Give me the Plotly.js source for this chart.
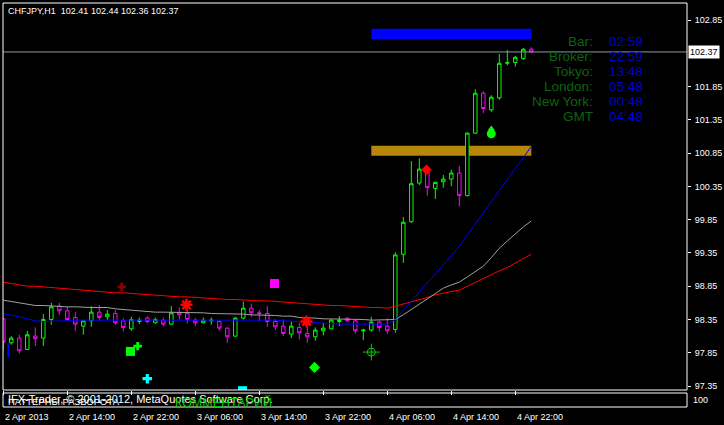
<!DOCTYPE html>
<html>
<head>
<meta charset="utf-8">
<script src="https://cdn.plot.ly/plotly-3.0.1.min.js"></script>
<style>
  html, body { margin: 0; padding: 0; background: #000; overflow: hidden; }
  #chart { width: 724px; height: 425px; }
</style>
</head>
<body>
<div id="chart"></div>
<script>
// ---- CHFJPY H1 quotes ----
const symbol = 'CHFJPY,H1';
const quote = [102.41, 102.44, 102.36, 102.37];

const open = [
  98.36, 98.00, 98.07, 97.90, 98.10, 98.07, 98.35, 98.55, 98.48, 98.38,
  98.25, 98.33, 98.46, 98.39, 98.44, 98.33, 98.21, 98.32, 98.37, 98.30,
  98.34, 98.28, 98.45, 98.44, 98.34, 98.30, 98.33, 98.32, 98.22, 98.10,
  98.37, 98.52, 98.45, 98.44, 98.32, 98.25, 98.13, 98.23, 98.14, 98.09,
  98.18, 98.21, 98.32, 98.37, 98.33, 98.18, 98.19, 98.31, 98.25, 98.20,
  99.33, 99.82, 100.40, 100.57, 100.32, 100.42, 100.46, 100.55, 100.21, 101.15,
  101.75, 101.50, 101.68, 102.20, 102.21, 102.27, 102.41
];
const high = [
  98.37, 98.10, 98.12, 98.18, 98.23, 98.43, 98.60, 98.60, 98.54, 98.46,
  98.33, 98.55, 98.57, 98.49, 98.49, 98.37, 98.39, 98.38, 98.40, 98.38,
  98.38, 98.55, 98.53, 98.48, 98.37, 98.38, 98.38, 98.34, 98.23, 98.39,
  98.62, 98.59, 98.49, 98.55, 98.35, 98.35, 98.32, 98.30, 98.24, 98.23,
  98.30, 98.35, 98.40, 98.38, 98.35, 98.21, 98.39, 98.33, 98.37, 99.36,
  99.89, 100.73, 100.77, 100.62, 100.42, 100.52, 100.60, 100.66, 101.16, 101.81,
  101.78, 101.72, 102.34, 102.40, 102.31, 102.43, 102.44
];
const low = [
  97.89, 97.97, 97.84, 97.89, 97.95, 97.95, 98.27, 98.42, 98.33, 98.18,
  98.12, 98.24, 98.33, 98.34, 98.27, 98.17, 98.18, 98.28, 98.29, 98.29,
  98.25, 98.27, 98.35, 98.29, 98.25, 98.29, 98.27, 98.18, 98.00, 98.09,
  98.35, 98.39, 98.32, 98.24, 98.19, 98.10, 98.07, 98.05, 98.00, 98.03,
  98.11, 98.21, 98.25, 98.32, 98.14, 98.04, 98.17, 98.17, 98.13, 98.15,
  99.20, 99.80, 100.37, 100.21, 100.16, 100.33, 100.35, 100.05, 100.20, 101.14,
  101.45, 101.47, 101.65, 102.17, 102.15, 102.25, 102.36
];
const close = [
  98.01, 98.07, 97.88, 98.12, 98.06, 98.35, 98.54, 98.48, 98.35, 98.28,
  98.33, 98.46, 98.38, 98.43, 98.30, 98.23, 98.35, 98.34, 98.32, 98.35,
  98.28, 98.45, 98.42, 98.35, 98.30, 98.34, 98.34, 98.22, 98.09, 98.37,
  98.52, 98.45, 98.44, 98.32, 98.24, 98.14, 98.25, 98.15, 98.09, 98.19,
  98.22, 98.34, 98.34, 98.33, 98.18, 98.19, 98.31, 98.23, 98.18, 99.32,
  99.81, 100.39, 100.61, 100.33, 100.41, 100.46, 100.55, 100.21, 101.15, 101.75,
  101.52, 101.69, 102.20, 102.21, 102.29, 102.41, 102.37
];

// ---- moving averages ----
const maSlow = [
  98.91, 98.89, 98.87, 98.85, 98.85, 98.84, 98.83, 98.82, 98.81, 98.79,
  98.78, 98.77, 98.77, 98.76, 98.75, 98.75, 98.74, 98.73, 98.72, 98.72,
  98.71, 98.70, 98.69, 98.69, 98.68, 98.67, 98.66, 98.66, 98.65, 98.65,
  98.64, 98.64, 98.63, 98.63, 98.62, 98.61, 98.60, 98.59, 98.58, 98.57,
  98.57, 98.56, 98.56, 98.55, 98.55, 98.54, 98.53, 98.53, 98.52, 98.55,
  98.58, 98.61, 98.65, 98.68, 98.72, 98.75, 98.77, 98.79, 98.85, 98.91,
  98.97, 99.03, 99.08, 99.13, 99.20, 99.26, 99.33
];
const maMid = [
  98.64, 98.62, 98.60, 98.58, 98.56, 98.56, 98.55, 98.54, 98.54, 98.54,
  98.53, 98.53, 98.53, 98.53, 98.51, 98.50, 98.49, 98.47, 98.47, 98.46,
  98.46, 98.46, 98.45, 98.45, 98.45, 98.45, 98.44, 98.44, 98.44, 98.43,
  98.43, 98.42, 98.42, 98.42, 98.41, 98.40, 98.40, 98.38, 98.38, 98.37,
  98.36, 98.36, 98.36, 98.36, 98.36, 98.35, 98.34, 98.34, 98.34, 98.35,
  98.42, 98.50, 98.58, 98.67, 98.75, 98.82, 98.87, 98.91, 98.99, 99.07,
  99.15, 99.28, 99.42, 99.53, 99.64, 99.74, 99.83
];
const maFast = [
  98.44, 98.42, 98.39, 98.36, 98.33, 98.32, 98.32, 98.33, 98.33, 98.34,
  98.34, 98.34, 98.35, 98.35, 98.35, 98.35, 98.35, 98.35, 98.35, 98.35,
  98.35, 98.35, 98.35, 98.35, 98.35, 98.34, 98.35, 98.35, 98.35, 98.34,
  98.34, 98.34, 98.34, 98.34, 98.34, 98.33, 98.33, 98.32, 98.31, 98.30,
  98.29, 98.29, 98.28, 98.28, 98.28, 98.28, 98.28, 98.28, 98.28, 98.35,
  98.49, 98.63, 98.76, 98.90, 99.03, 99.17, 99.31, 99.45, 99.62, 99.78,
  99.95, 100.12, 100.29, 100.45, 100.62, 100.78, 100.95
];

// ---- axis labels ----
const priceTicks = [97.35, 97.85, 98.35, 98.85, 99.35, 99.85, 100.35, 100.85, 101.35, 101.85, 102.85];
const timeTickBars = [0, 8, 16, 24, 32, 40, 48, 56, 64];
const timeTickText = ['2 Apr 2013', '2 Apr 14:00', '2 Apr 22:00', '3 Apr 06:00', '3 Apr 14:00',
                      '3 Apr 22:00', '4 Apr 06:00', '4 Apr 14:00', '4 Apr 22:00'];

// ---- price zones (bar from, bar to, low, high) ----
const zoneFrom = [46, 46];
const zoneTo = [66, 66];
const zoneLow = [102.56, 100.81];
const zoneHigh = [102.72, 100.96];

// ---- signal arrows ----
const darkCrossX = [14.8], darkCrossY = [98.84];
const starX = [22.9, 37.9], starY = [98.57, 98.32];
const magentaBoxX = [33.9], magentaBoxY = [98.89];
const limeBoxX = [15.9], limeBoxY = [97.87];
const limeCrossX = [16.8], limeCrossY = [97.95];
const cyanCrossX = [18.0], cyanCrossY = [97.46];
const cyanBoxX = [29.9], cyanBoxY = [97.28];
const limeDiamondX = [38.9], limeDiamondY = [97.63];
const targetX = [46.0], targetY = [97.86];
const redDiamondX = [52.9], redDiamondY = [100.60];
const dropX = [61.0], dropY = [101.14], dropTipY = [101.22];
const blueTickX = [0.63], blueTickY = [97.89];

// ---- clock panel ----
const clockNames = ['Bar:', 'Broker:', 'Tokyo:', 'London:', 'New York:', 'GMT'];
const clockTimes = ['02:59', '22:59', '13:48', '05:48', '00:48', '04:48'];

// ---- indicator window texts ----
const copyrightText = 'IFX-Trader, \u00a9 2001-2012, MetaQuotes Software Corp.';
const patternText = 'ПАТТЕРНЫ РАЗВОРОТА';
const commentText = 'КОММЕНТАРИЙ';
const subLevel = 100;

// ---------------------------------------------------------------
const W = 724, H = 425;
const L = 3, R = 687, T = 3, B = 407;          // plot area in pixels
const mainBottom = 390, subTop = 393;
const px = x => (x - L) / (R - L);
const py = y => (B - y) / (B - T);
const barIdx = open.map((_, i) => i);
const lastClose = close[close.length - 1];

const FONT = 'Liberation Sans, Arial, sans-serif';
const LIME = '#00FF00', MAG = '#FF00FF';

function marks(x, y, symbol, size, color, lineColor, lineWidth) {
  return {
    type: 'scatter', mode: 'markers', x: x, y: y, xaxis: 'x', yaxis: 'y',
    hoverinfo: 'skip', showlegend: false,
    marker: { symbol: symbol, size: size, color: color,
              line: { color: lineColor || color, width: lineWidth || 0 } }
  };
}
function maLine(y, color) {
  return { type: 'scatter', mode: 'lines', x: barIdx, y: y, xaxis: 'x', yaxis: 'y',
           hoverinfo: 'skip', showlegend: false, line: { color: color, width: 1 } };
}

const traces = [
  {
    type: 'candlestick', x: barIdx, open: open, high: high, low: low, close: close,
    xaxis: 'x', yaxis: 'y', showlegend: false, hoverinfo: 'skip', whiskerwidth: 0,
    increasing: { line: { color: LIME, width: 1 }, fillcolor: '#000000' },
    decreasing: { line: { color: MAG, width: 1 }, fillcolor: '#000000' }
  },
  maLine(maSlow, '#FF0000'),
  maLine(maMid, '#A0A0A0'),
  maLine(maFast, '#0000FF'),
  marks(blueTickX, blueTickY, 'line-ns', 10, '#0000FF', '#0000FF', 2),
  marks(darkCrossX, darkCrossY, 'cross', 7, '#8B0000'),
  marks(starX, starY, 'asterisk-open', 10, '#FF0000', '#FF0000', 2.5),
  marks(starX, starY, 'circle', 5, '#FF0000'),
  marks(magentaBoxX, magentaBoxY, 'square', 9, MAG),
  marks(limeBoxX, limeBoxY, 'square', 9, LIME),
  marks(limeCrossX, limeCrossY, 'cross', 7, LIME),
  marks(cyanCrossX, cyanCrossY, 'cross', 8, '#00FFFF'),
  marks(cyanBoxX, cyanBoxY, 'square', 9, '#00FFFF'),
  marks(limeDiamondX, limeDiamondY, 'diamond', 8.5, LIME),
  marks(targetX, targetY, 'circle-open', 8, '#00CC00', '#00CC00', 1),
  marks(targetX, targetY, 'cross-thin-open', 12, '#00CC00', '#00CC00', 1),
  marks(redDiamondX, redDiamondY, 'diamond', 8, '#FF0000'),
  marks(dropX, dropTipY, 'triangle-up', 6, LIME),
  marks(dropX, dropY, 'circle', 9, LIME)
];

const shapes = [];
zoneFrom.forEach((x0, i) => {
  shapes.push({ type: 'rect', xref: 'x', yref: 'y', x0: x0, x1: zoneTo[i], y0: zoneLow[i], y1: zoneHigh[i],
                fillcolor: i === 0 ? '#0000FF' : '#B8860B', line: { width: 0 }, layer: 'below' });
});
shapes.push({ type: 'line', xref: 'paper', yref: 'y', x0: 0, x1: 1, y0: lastClose, y1: lastClose,
              line: { color: '#8899AA', width: 1 } });
shapes.push({ type: 'rect', xref: 'paper', yref: 'paper', x0: 0, x1: 1, y0: py(mainBottom), y1: 1,
              line: { color: '#FFFFFF', width: 1 }, fillcolor: 'rgba(0,0,0,0)' });
shapes.push({ type: 'rect', xref: 'paper', yref: 'paper', x0: 0, x1: 1, y0: 0, y1: py(subTop),
              line: { color: '#FFFFFF', width: 1 }, fillcolor: 'rgba(0,0,0,0)' });

const annotations = [
  { xref: 'paper', yref: 'paper', x: px(6), y: py(11), xanchor: 'left', yanchor: 'middle', showarrow: false,
    text: symbol + '  ' + quote.map(v => v.toFixed(2)).join(' '), font: { family: FONT, size: 9, color: '#FFFFFF' } },
  { xref: 'paper', yref: 'y', x: 1, xshift: 1, y: lastClose, xanchor: 'left', yanchor: 'middle', showarrow: false,
    text: lastClose.toFixed(2), bgcolor: '#FFFFFF', borderpad: 1, font: { family: FONT, size: 9, color: '#000000' } },
  { xref: 'paper', yref: 'paper', x: px(6), y: py(401.5), xanchor: 'left', yanchor: 'middle', showarrow: false,
    text: patternText, font: { family: FONT, size: 9.5, color: '#FFFFFF' } },
  { xref: 'paper', yref: 'paper', x: px(6), y: py(398.5), xanchor: 'left', yanchor: 'middle', showarrow: false,
    text: copyrightText, font: { family: FONT, size: 11, color: '#FFFFFF' } },
  { xref: 'paper', yref: 'paper', x: px(173), y: py(402.5), xanchor: 'left', yanchor: 'middle', showarrow: false,
    text: commentText, font: { family: FONT, size: 12.5, color: '#00C800' } },
  { xref: 'paper', yref: 'paper', x: 1, xshift: 4, y: py(399.5), xanchor: 'left', yanchor: 'middle', showarrow: false,
    text: String(subLevel), font: { family: FONT, size: 9, color: '#FFFFFF' } }
];
// time labels start just right of each tick, under the indicator window
timeTickBars.forEach((b, i) => {
  annotations.push({ xref: 'x', yref: 'paper', x: b, xshift: 0, y: py(417), xanchor: 'left', yanchor: 'middle',
    showarrow: false, text: timeTickText[i], font: { family: FONT, size: 9, color: '#FFFFFF' } });
});
clockNames.forEach((name, i) => {
  const y = 41.7 + i * 14.9;
  annotations.push({ xref: 'paper', yref: 'paper', x: px(595), y: py(y), xanchor: 'right', yanchor: 'middle',
    showarrow: false, text: name, font: { family: FONT, size: 13.5, color: '#0E620E' } });
  annotations.push({ xref: 'paper', yref: 'paper', x: px(607), y: py(y), xanchor: 'left', yanchor: 'middle',
    showarrow: false, text: clockTimes[i], font: { family: FONT, size: 13.5, color: '#0000CC' } });
});

const layout = {
  width: W, height: H,
  margin: { l: L, r: W - R, t: T, b: H - B, pad: 0 },
  paper_bgcolor: '#000000', plot_bgcolor: '#000000',
  showlegend: false, hovermode: false, boxgap: 0.38,
  font: { family: FONT, size: 9, color: '#FFFFFF' },
  xaxis: {
    range: [(L - 3.3) / 8, (R - 3.3) / 8], anchor: 'y2', domain: [0, 1],
    rangeslider: { visible: false }, showgrid: false, zeroline: false, showline: false,
    tickmode: 'array', tickvals: timeTickBars, showticklabels: false,
    ticks: 'outside', ticklen: 4, tickcolor: '#FFFFFF', tickwidth: 1, fixedrange: true
  },
  yaxis: {
    domain: [py(mainBottom), 1], anchor: 'x', side: 'right',
    range: [102.85 - (mainBottom - 20) / 66.55, 102.85 + (20 - T) / 66.55],
    showgrid: false, zeroline: false, showline: false,
    tickmode: 'array', tickvals: priceTicks, ticktext: priceTicks.map(v => v.toFixed(2)),
    ticks: 'outside', ticklen: 3, tickcolor: '#FFFFFF', tickwidth: 1, ticklabelstandoff: 2,
    tickfont: { family: FONT, size: 9, color: '#FFFFFF' }, fixedrange: true
  },
  yaxis2: {
    domain: [0, py(subTop)], anchor: 'x', side: 'right', range: [0, 200],
    showgrid: false, zeroline: false, showline: false,
    tickmode: 'array', tickvals: [subLevel], showticklabels: false,
    ticks: 'outside', ticklen: 3, tickcolor: '#FFFFFF', tickwidth: 1, fixedrange: true
  },
  shapes: shapes,
  annotations: annotations
};

Plotly.newPlot('chart', traces, layout, { staticPlot: true, displayModeBar: false });
</script>
</body>
</html>
